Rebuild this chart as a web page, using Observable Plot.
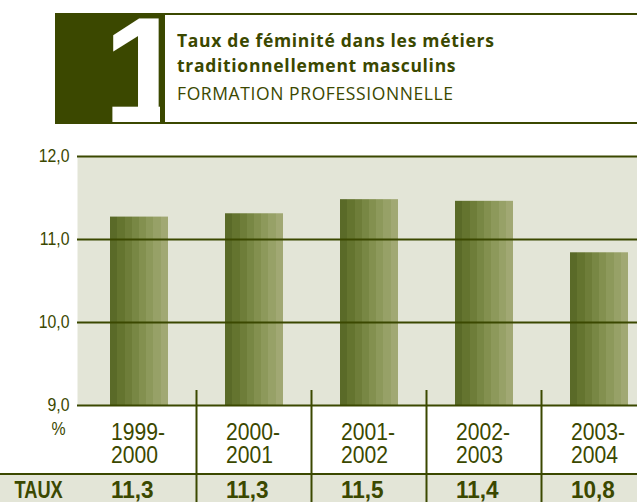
<!DOCTYPE html>
<html><head><meta charset="utf-8">
<script src="https://cdn.jsdelivr.net/npm/d3@7"></script>
<script src="https://cdn.jsdelivr.net/npm/@observablehq/plot@0.6"></script>
<style>
body{margin:0;background:#fff;width:637px;height:502px;overflow:hidden;}
#header{position:relative;height:135px;width:637px;}
#box{position:absolute;left:55px;top:13px;width:110px;height:111px;background:#3b4800;}
#clip{position:absolute;left:0;top:0;width:105px;height:109px;overflow:hidden;}
#one{position:absolute;left:48px;top:-18px;font:bold 150px/150px "Liberation Sans",Arial,sans-serif;color:#fff;}
.hl{position:absolute;left:165px;width:472px;height:2px;background:#3b4800;}
.t{position:absolute;left:177px;font-family:"Open Sans",sans-serif;font-size:17.5px;line-height:20px;color:#3b4800;white-space:nowrap;letter-spacing:0.6px;}
.b{font-weight:700;letter-spacing:0.7px;}
#chart svg{display:block;}
</style>
</head><body>
<div id="header">
  <div id="box"><div id="clip"><span id="one">1</span></div></div>
  <div class="hl" style="top:13px"></div>
  <div class="hl" style="top:122px"></div>
  <div class="t b" style="top:30px">Taux de féminité dans les métiers</div>
  <div class="t b" style="top:55px">traditionnellement masculins</div>
  <div class="t" style="top:83px">FORMATION PROFESSIONNELLE</div>
</div>
<div id="chart"></div>
<script>
const years = ["1999-\n2000", "2000-\n2001", "2001-\n2002", "2002-\n2003", "2003-\n2004"];
const values = [11.27, 11.31, 11.48, 11.46, 10.84];
const tauxLabels = ["11,3", "11,3", "11,5", "11,4", "10,8"];
const yTicks = [9, 10, 11, 12];
const rowLabel = "TAUX";
const unitLabel = "%";

const data = years.map((y, i) => ({year: y, value: values[i], taux: tauxLabels[i]}));
const fmt = d => d.toFixed(1).replace(".", ",");
const ink = "#3b4800";
const font = '"Liberation Sans",Arial,Helvetica,sans-serif';
const W = 637, H = 367;

const chart = Plot.plot({
  width: W, height: H,
  marginLeft: 77, marginRight: 0, marginTop: 21, marginBottom: 97,
  style: {fontFamily: font, color: ink, background: "transparent"},
  x: {domain: years, range: [81, 656], paddingInner: 0.5, paddingOuter: 0.25, axis: null},
  y: {domain: [9, 12], axis: null},
  marks: [
    Plot.frame({fill: "#e3e5d7", stroke: null}),
    Plot.barY(data, {x: "year", y1: 9, y2: "value", fill: "url(#barGrad)"}),
    Plot.ruleY(yTicks, {stroke: ink, strokeWidth: 2}),
    Plot.axisY({ticks: yTicks, tickFormat: fmt, tickSize: 0, tickPadding: 8, fontSize: 18, label: null}),
    Plot.text(data, {x: "year", text: "year", frameAnchor: "bottom", textAnchor: "start", lineAnchor: "top", dx: -28.5, dy: 18, fontSize: 24, lineHeight: 0.96}),
    Plot.text([unitLabel], {frameAnchor: "bottom-left", textAnchor: "end", lineAnchor: "top", dx: -12, dy: 17, fontSize: 18}),
    Plot.text(data, {x: "year", text: "taux", frameAnchor: "bottom", textAnchor: "start", lineAnchor: "top", dx: -28.5, dy: 75, fontSize: 24, fontWeight: "bold"}),
    Plot.text([rowLabel], {frameAnchor: "bottom-left", textAnchor: "start", lineAnchor: "top", dx: -63, dy: 75, fontSize: 24, fontWeight: "bold"})
  ]
});

const svg = d3.select(chart);
// condensed look: squeeze glyphs horizontally around each text's anchor
function squeeze(sel, k) {
  sel.selectAll("text").each(function() {
    const t = this.getAttribute("transform") || "";
    this.setAttribute("transform", t + ` scale(${k},1)`);
  });
}
const textGroups = svg.selectAll("g[aria-label='text']").nodes();
squeeze(svg.selectAll("g[aria-label='y-axis tick label']"), 0.88);
squeeze(d3.select(textGroups[0]), 0.88);
squeeze(d3.select(textGroups[1]), 0.88);
squeeze(d3.select(textGroups[2]), 0.94);
squeeze(d3.select(textGroups[3]), 0.76);

const xs = chart.scale("x");
const rowTop = H - 28;
const bg = svg.insert("g", ":first-child");
bg.append("rect").attr("x", 0).attr("y", rowTop).attr("width", W).attr("height", H - rowTop).attr("fill", "#e3e5d7");
const defs = svg.insert("defs", ":first-child");
const grad = defs.append("linearGradient").attr("id", "barGrad").attr("x1", 0).attr("x2", 1).attr("y1", 0).attr("y2", 0);
const stripes = ["#5a6a28", "#64742f", "#6e7d39", "#788744", "#83904f", "#8d995b", "#97a167", "#a1a873"];
stripes.forEach((c, i) => {
  grad.append("stop").attr("offset", i / stripes.length).attr("stop-color", c);
  grad.append("stop").attr("offset", (i + 1) / stripes.length).attr("stop-color", c);
});
const lines = svg.append("g").attr("stroke", ink).attr("stroke-width", 2);
lines.append("line").attr("x1", 0).attr("x2", W).attr("y1", rowTop).attr("y2", rowTop);
const gap = (xs.step - xs.bandwidth) / 2;
years.slice(1).forEach(y => {
  const sx = xs.apply(y) - gap;
  lines.append("line").attr("x1", sx).attr("x2", sx).attr("y1", H - 112).attr("y2", H);
});
document.getElementById("chart").appendChild(chart);
</script>
</body></html>
